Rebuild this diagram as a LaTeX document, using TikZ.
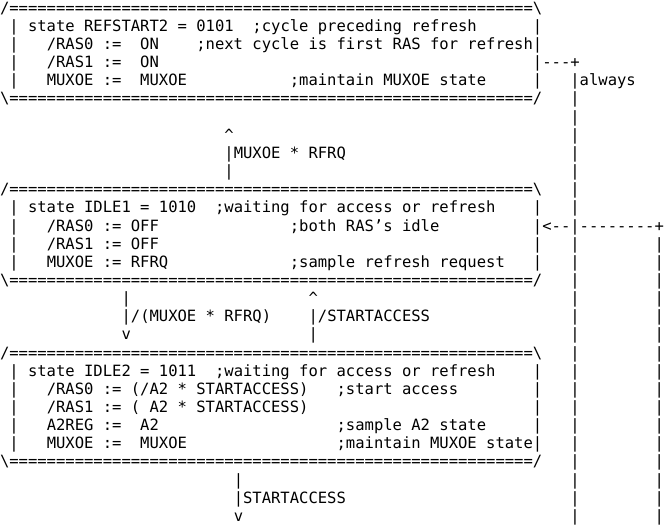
\documentclass[tikz,border=0pt]{standalone}
\usepackage{fontspec}
\newfontfamily\monofnt{DejaVu Sans Mono}
\tikzset{
  tt/.style={font=\monofnt\fontsize{15.53pt}{18pt}\selectfont\frenchspacing,
             inner sep=0pt, outer sep=0pt, anchor=base west, text=black}
}
% place text #4 as node #1 at column #2, row #3 of the character grid
\newcommand\T[4]{\node[tt] (#1) at ({(#2)*9.35pt},{-(13.22pt+18.15pt*(#3))}) {#4};}
\newcommand\eqten{==========}
\newcommand\eqrun{\eqten\eqten\eqten\eqten\eqten======}
\newcommand\topline{/\eqrun\textbackslash}
\newcommand\botline{\textbackslash\eqrun/}
\begin{document}
\begin{tikzpicture}
\useasboundingbox (0pt,0pt) rectangle (664pt,-526pt);
\fill[white] (0pt,0pt) rectangle (664pt,-526pt);
% ---------- state REFSTART2 ----------
\T{a0}{0}{0}{\topline}
\T{a1l}{1}{1}{|}
\T{a1t}{3}{1}{state REFSTART2 = 0101}
\T{a1c}{27}{1}{;cycle preceding refresh}
\T{a1r}{57}{1}{|}
\T{a2l}{1}{2}{|}
\T{a2t}{5}{2}{/RAS0 :=~~ON}
\T{a2c}{21}{2}{;next cycle is first RAS for refresh}
\T{a2r}{57}{2}{|}
\T{a3l}{1}{3}{|}
\T{a3t}{5}{3}{/RAS1 :=~~ON}
\T{a3r}{57}{3}{|}
\T{a3d}{58}{3}{---+}
\T{a4l}{1}{4}{|}
\T{a4t}{5}{4}{MUXOE :=~~MUXOE}
\T{a4c}{31}{4}{;maintain MUXOE state}
\T{a4r}{57}{4}{|}
\T{a4a}{61}{4}{|always}
\T{a5}{0}{5}{\botline}
% ---------- arrow MUXOE * RFRQ ----------
\T{b7}{24}{7}{\textasciicircum}
\T{b8}{24}{8}{|MUXOE * RFRQ}
\T{b9}{24}{9}{|}
% ---------- state IDLE1 ----------
\T{c0}{0}{10}{\topline}
\T{c1l}{1}{11}{|}
\T{c1t}{3}{11}{state IDLE1 = 1010}
\T{c1c}{23}{11}{;waiting for access or refresh}
\T{c1r}{57}{11}{|}
\T{c2l}{1}{12}{|}
\T{c2t}{5}{12}{/RAS0 := OFF}
\T{c2c}{31}{12}{;both RAS’s idle}
\T{c2r}{57}{12}{|}
\T{c2a}{58}{12}{<--}
\T{c2d}{62}{12}{--------}
\T{c2p}{70}{12}{+}
\T{c3l}{1}{13}{|}
\T{c3t}{5}{13}{/RAS1 := OFF}
\T{c3r}{57}{13}{|}
\T{c4l}{1}{14}{|}
\T{c4t}{5}{14}{MUXOE := RFRQ}
\T{c4c}{31}{14}{;sample refresh request}
\T{c4r}{57}{14}{|}
\T{c5}{0}{15}{\botline}
% ---------- arrows between IDLE1 and IDLE2 ----------
\T{d6a}{13}{16}{|}
\T{d6b}{33}{16}{\textasciicircum}
\T{d7a}{13}{17}{|/(MUXOE * RFRQ)}
\T{d7b}{33}{17}{|/STARTACCESS}
\T{d8a}{13}{18}{v}
\T{d8b}{33}{18}{|}
% ---------- state IDLE2 ----------
\T{e0}{0}{19}{\topline}
\T{e1l}{1}{20}{|}
\T{e1t}{3}{20}{state IDLE2 = 1011}
\T{e1c}{23}{20}{;waiting for access or refresh}
\T{e1r}{57}{20}{|}
\T{e2l}{1}{21}{|}
\T{e2t}{5}{21}{/RAS0 := (/A2 * STARTACCESS)}
\T{e2c}{36}{21}{;start access}
\T{e2r}{57}{21}{|}
\T{e3l}{1}{22}{|}
\T{e3t}{5}{22}{/RAS1 := ( A2 * STARTACCESS)}
\T{e3r}{57}{22}{|}
\T{e4l}{1}{23}{|}
\T{e4t}{5}{23}{A2REG :=~~A2}
\T{e4c}{36}{23}{;sample A2 state}
\T{e4r}{57}{23}{|}
\T{e5l}{1}{24}{|}
\T{e5t}{5}{24}{MUXOE :=~~MUXOE}
\T{e5c}{36}{24}{;maintain MUXOE state}
\T{e5r}{57}{24}{|}
\T{e6}{0}{25}{\botline}
% ---------- arrow STARTACCESS ----------
\T{f1}{25}{26}{|}
\T{f2}{25}{27}{|STARTACCESS}
\T{f3}{25}{28}{v}
% ---------- right-hand loop lines ----------
\foreach \r in {5,...,28} {\T{L\r}{61}{\r}{|}}
\foreach \r in {13,...,28} {\T{R\r}{70}{\r}{|}}
\end{tikzpicture}
\end{document}
